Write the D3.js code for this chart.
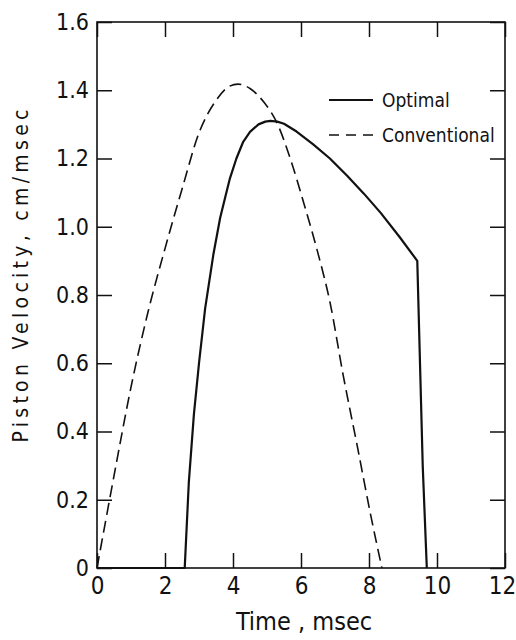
<html>
<head>
<meta charset="utf-8">
<script src="https://d3js.org/d3.v7.min.js"></script>
<style>
  body { margin: 0; background: #fff; }
  svg text { font-family: "DejaVu Sans Condensed", "Liberation Sans Narrow", "DejaVu Sans", sans-serif; fill: #111; }
  .axis path { display: none; }
  .axis line { stroke: #111; stroke-width: 1.5; }
</style>
</head>
<body>
<script>
// values
var xTicks = [0, 2, 4, 6, 8, 10, 12];
var yTicks = [0, 0.2, 0.4, 0.6, 0.8, 1.0, 1.2, 1.4, 1.6];
var yTickLabels = ["0", "0.2", "0.4", "0.6", "0.8", "1.0", "1.2", "1.4", "1.6"];

// optimal piston motion (solid)
var optimalTime = [0, 2.58, 2.7, 2.85, 3.0, 3.18, 3.42, 3.62, 3.78, 3.91, 4.1, 4.3, 4.5, 4.75, 4.95, 5.1, 5.3, 5.5, 5.87, 6.35, 6.85, 7.35, 7.85, 8.35, 8.9, 9.42, 9.5, 9.58, 9.7];
var optimalVel  = [0, 0, 0.25, 0.45, 0.6, 0.76, 0.917, 1.025, 1.09, 1.142, 1.2, 1.249, 1.278, 1.3, 1.308, 1.31, 1.308, 1.302, 1.279, 1.242, 1.2, 1.15, 1.097, 1.04, 0.97, 0.9, 0.6, 0.3, 0];

// conventional piston motion (dashed)
var convTime = [0, 0.5, 1.0, 1.5, 2.0, 2.5, 3.0, 3.5, 3.9, 4.15, 4.5, 4.9, 5.3, 5.7, 6.1, 6.5, 6.85, 7.25, 7.65, 8.05, 8.38];
var convVel  = [0, 0.27, 0.53, 0.75, 0.936, 1.11, 1.275, 1.37, 1.412, 1.418, 1.405, 1.366, 1.303, 1.195, 1.063, 0.922, 0.78, 0.56, 0.36, 0.155, 0];

var seriesNames = ["Optimal", "Conventional"];

var W = 516, H = 640;
var plotLeft = 97, plotRight = 505, plotTop = 22, plotBottom = 568;

var svg = d3.select("body").append("svg")
  .attr("width", W)
  .attr("height", H);

var x = d3.scaleLinear().domain([0, 12]).range([plotLeft, plotRight]);
var y = d3.scaleLinear().domain([0, 1.6]).range([plotBottom, plotTop]);

// frame
svg.append("rect")
  .attr("x", plotLeft).attr("y", plotTop)
  .attr("width", plotRight - plotLeft).attr("height", plotBottom - plotTop)
  .attr("fill", "none").attr("stroke", "#111").attr("stroke-width", 1.6);

// ticks point inward on all four sides
var tickLen = 15;
svg.append("g").attr("class", "axis")
  .attr("transform", "translate(0," + plotBottom + ")")
  .call(d3.axisBottom(x).tickValues(xTicks).tickSize(-tickLen).tickPadding(9).tickFormat(d3.format("d")))
  .selectAll("text")
  .style("font-size", "24px")
  .attr("dx", function(d) { return d == 12 ? -3 : 0; }); // keep "12" inside the page

svg.append("g").attr("class", "axis")
  .attr("transform", "translate(0," + plotTop + ")")
  .call(d3.axisTop(x).tickValues(xTicks).tickSize(-tickLen).tickFormat(""));

svg.append("g").attr("class", "axis")
  .attr("transform", "translate(" + plotLeft + ",0)")
  .call(d3.axisLeft(y).tickValues(yTicks).tickSize(-tickLen).tickPadding(8)
    .tickFormat(function(d, i) { return yTickLabels[i]; }))
  .selectAll("text").style("font-size", "23px");

svg.append("g").attr("class", "axis")
  .attr("transform", "translate(" + plotRight + ",0)")
  .call(d3.axisRight(y).tickValues(yTicks).tickSize(-tickLen).tickFormat(""));

// curves
var line = d3.line()
  .x(function(d) { return x(d[0]); })
  .y(function(d) { return y(d[1]); });

var optimal = d3.zip(optimalTime, optimalVel);
var conventional = d3.zip(convTime, convVel);

svg.append("path")
  .datum(conventional)
  .attr("fill", "none")
  .attr("stroke", "#111")
  .attr("stroke-width", 1.6)
  .attr("stroke-dasharray", "12,6")
  .attr("d", line.curve(d3.curveMonotoneX));

svg.append("path")
  .datum(optimal)
  .attr("fill", "none")
  .attr("stroke", "#111")
  .attr("stroke-width", 2.2)
  .attr("stroke-linejoin", "round")
  .attr("d", line.curve(d3.curveLinear));

// legend
var legend = svg.append("g").attr("transform", "translate(329,100)");
seriesNames.forEach(function(name, i) {
  var g = legend.append("g").attr("transform", "translate(0," + i * 35 + ")");
  g.append("line")
    .attr("x1", 0).attr("x2", 44)
    .attr("stroke", "#111")
    .attr("stroke-width", i == 0 ? 2.2 : 1.6)
    .attr("stroke-dasharray", i == 0 ? null : "10,7");
  g.append("text")
    .attr("x", 53).attr("y", 7)
    .style("font-size", "19px")
    .text(name);
});

// axis titles
svg.append("text")
  .attr("x", 304).attr("y", 630)
  .attr("text-anchor", "middle")
  .style("font-size", "25px")
  .text("Time , msec");

svg.append("text")
  .attr("transform", "translate(28,276) rotate(-90)")
  .attr("text-anchor", "middle")
  .attr("textLength", 333)
  .attr("lengthAdjust", "spacing")
  .style("font-size", "21px")
  .text("Piston Velocity, cm/msec");
</script>
</body>
</html>
